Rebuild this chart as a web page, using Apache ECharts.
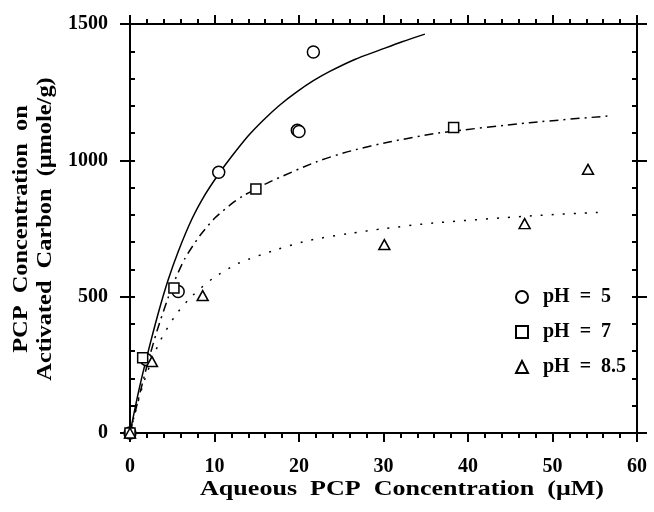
<!DOCTYPE html>
<html><head><meta charset="utf-8">
<script src="https://cdn.jsdelivr.net/npm/echarts@6/dist/echarts.min.js"></script>
<style>html,body{margin:0;padding:0;background:#fff}#c{width:654px;height:512px}</style>
</head><body><div id="c"></div>
<script>
const seriesNames = ['pH  =  5', 'pH  =  7', 'pH  =  8.5'];
const xAxisTitle = 'Aqueous  PCP  Concentration  (\u03bcM)';
const yAxisTitle = 'PCP  Concentration  on\nActivated  Carbon  (\u03bcmole/g)';
const xRange = [0, 60];
const yRange = [0, 1500];

// measured points
const ph5Points = [[0, 0], [1.9, 270], [5.7, 519], [10.5, 956], [19.8, 1110], [20.0, 1106], [21.7, 1397]];
const ph7Points = [[0, 0], [1.5, 276], [5.2, 532], [14.9, 895], [38.3, 1120]];
const ph85Points = [[0, 0], [2.6, 262], [8.6, 504], [30.1, 691], [46.7, 768], [54.2, 967]];

// fitted curves
const ph5Curve = [[0, 0], [1, 150], [2, 280], [3.35, 440], [4.5, 560], [5.7, 665], [7.3, 783], [8.9, 875], [10.5, 950], [12, 1013], [14, 1090], [15.8, 1148], [17.7, 1202], [19.7, 1250], [21.7, 1292], [23.7, 1327], [26.6, 1370], [29.6, 1405], [32.2, 1435], [34.9, 1463]];
const ph7Curve = [[0, 0], [1, 125], [2, 245], [3.2, 375], [4.5, 495], [5.3, 560], [6.5, 640], [8.3, 725], [10.1, 790], [12, 840], [13.4, 870], [14.9, 895], [16.6, 922], [22.1, 995], [26.2, 1035], [30.8, 1068], [36.5, 1100], [47.3, 1138], [56.8, 1163]];
const ph85Curve = [[0, 0], [0.6, 73], [1.6, 183], [3.35, 324], [5.3, 428], [7.3, 501], [9.9, 569], [12.8, 622], [17.4, 673], [21.3, 707], [25.8, 731], [30.2, 750], [35.9, 770], [47.3, 796], [56.0, 810]];

const FONT = 'Liberation Serif';
const chart = echarts.init(document.getElementById('c'), null, {renderer: 'canvas'});
const lineSt = {color: '#000', width: 2};
const tickSt = {color: '#000', width: 2};
const lbl = {color: '#000', fontFamily: FONT, fontWeight: 'bold', fontSize: 20, formatter: function (v) { return String(v); }};

function xAx(pos, showLabel) {
  return {
    type: 'value', position: pos, min: xRange[0], max: xRange[1], interval: 10,
    axisLine: {show: true, onZero: false, lineStyle: lineSt},
    axisTick: {show: true, inside: false, length: 9, lineStyle: tickSt},
    minorTick: {show: true, splitNumber: 5, length: 5, lineStyle: tickSt},
    axisLabel: Object.assign({show: showLabel, margin: 24}, lbl),
    splitLine: {show: false}, minorSplitLine: {show: false}
  };
}
function yAx(pos, showLabel) {
  return {
    type: 'value', position: pos, min: yRange[0], max: yRange[1], interval: 500,
    axisLine: {show: true, onZero: false, lineStyle: lineSt},
    axisTick: {show: true, inside: false, length: 10, lineStyle: tickSt},
    axisLabel: Object.assign({show: showLabel, margin: 22}, lbl),
    splitLine: {show: false}
  };
}
function yMinor(pos) {
  return {
    type: 'value', position: pos, min: yRange[0], max: yRange[1], interval: 100,
    axisLine: {show: false, onZero: false},
    axisTick: {show: true, inside: true, length: 5, lineStyle: tickSt},
    axisLabel: {show: false}, splitLine: {show: false}
  };
}
function curve(data, type) {
  return {
    type: 'line', data: data, xAxisIndex: 0, yAxisIndex: 0, showSymbol: false, symbol: 'none',
    smooth: 0.25, silent: true, z: 2,
    lineStyle: {color: '#000', width: 1.5, type: type}
  };
}
function pts(name, data, symbol, size) {
  return {
    type: 'scatter', name: name, data: data, xAxisIndex: 0, yAxisIndex: 0,
    symbol: symbol, symbolSize: size, z: 5,
    itemStyle: {color: '#fff', borderColor: '#000', borderWidth: 1.5, opacity: 1}
  };
}

chart.setOption({
  animation: false,
  backgroundColor: '#fff',
  grid: {left: 130, right: 17, top: 24, bottom: 79, containLabel: false},
  xAxis: [xAx('bottom', true), xAx('top', false)],
  yAxis: [yAx('left', true), yAx('right', false), yMinor('left'), yMinor('right')],
  legend: {
    data: seriesNames, orient: 'vertical', left: 510, top: 281,
    itemWidth: 12, itemHeight: 12, itemGap: 13,
    textStyle: {color: '#000', fontFamily: FONT, fontWeight: 'bold', fontSize: 20, lineHeight: 22, padding: [0, 0, 0, 10]}
  },
  series: [
    curve(ph5Curve, 'solid'),
    curve(ph7Curve, [9, 5, 2, 5]),
    curve(ph85Curve, [2, 9]),
    pts(seriesNames[0], ph5Points, 'circle', 12),
    pts(seriesNames[1], ph7Points, 'rect', 10),
    pts(seriesNames[2], ph85Points, 'triangle', [11, 10])
  ],
  graphic: [
    {type: 'text', x: 402, y: 490, scaleX: 1.24,
     style: {text: xAxisTitle, fill: '#000', font: 'bold 21px "Liberation Serif"', align: 'center', verticalAlign: 'middle'}},
    {type: 'text', x: 34, y: 229, rotation: Math.PI / 2, scaleX: 1.16,
     style: {text: yAxisTitle, fill: '#000', font: 'bold 21px "Liberation Serif"', align: 'center', verticalAlign: 'middle', lineHeight: 24}}
  ]
});
</script></body></html>
